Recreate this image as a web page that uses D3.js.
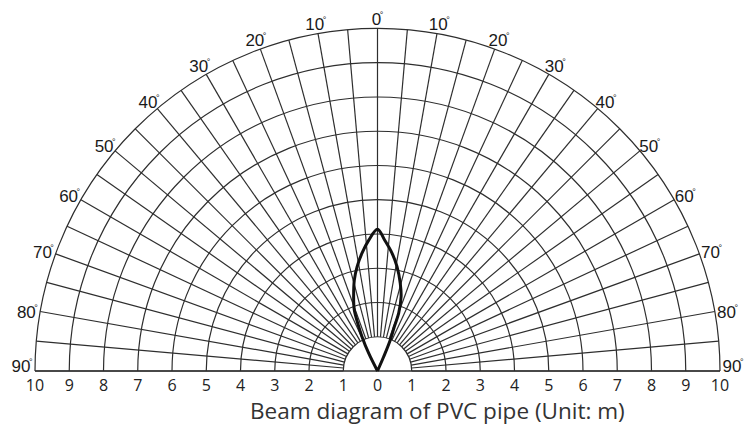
<!DOCTYPE html>
<html><head><meta charset="utf-8">
<script src="https://cdn.jsdelivr.net/npm/d3@7"></script>
<style>html,body{margin:0;padding:0;background:#fff;}svg{display:block;}</style>
</head><body>
<svg id="chart" width="744" height="426"></svg>
<script>
// ---- data ----
const rangeTicks = [0, 1, 2, 3, 4, 5, 6, 7, 8, 9, 10];            // metres (circles)
const angleGrid = d3.range(-90, 91, 5);                            // radial grid lines (deg)
const angleLabels = [-90, -80, -70, -60, -50, -40, -30, -20, -10, 0, 10, 20, 30, 40, 50, 60, 70, 80, 90];
const beamAngles = [0, -26.4, -24.3, -22.5, -20.8, -17.8, -14.3, -11.1, -7.5, -3.8, 0, 3.1, 7.0, 10.6, 14.5, 17.6, 20.1, 20.8, 22.4, 23.4, 0];
const beamRanges = [0, 0.58, 1.10, 1.51, 1.91, 2.28, 2.74, 3.10, 3.47, 3.83, 4.14, 3.83, 3.47, 3.10, 2.65, 2.28, 1.80, 1.38, 0.98, 0.46, 0];
const title = "Beam diagram of PVC pipe (Unit: m)";

// ---- layout ----
const cx = 377.5, cy = 371, R = 342.5;
const svg = d3.select("#chart");
const r = d3.scaleLinear().domain([0, 10]).range([0, R]);
const rad = d3.scaleLinear().domain([0, 360]).range([0, 2 * Math.PI]);
const g = svg.append("g").attr("transform", `translate(${cx},${cy})`);
const gridColor = "#2e2e2e";

// circles (semicircles)
g.selectAll("path.ring").data(rangeTicks.filter(d => d > 0)).join("path")
  .attr("class", "ring")
  .attr("d", d => { const p = d3.path(); p.arc(0, 0, r(d), -Math.PI, 0); return p.toString(); })
  .attr("fill", "none").attr("stroke", gridColor).attr("stroke-width", 1.2);

// radial lines
const radial = d3.lineRadial().angle(d => rad(d[0])).radius(d => r(d[1]));
g.selectAll("path.spoke").data(angleGrid).join("path")
  .attr("class", "spoke")
  .attr("d", a => radial([[a, 1], [a, 10]]))
  .attr("fill", "none").attr("stroke", gridColor).attr("stroke-width", 1.2);

// baseline
g.append("line").attr("x1", -r(10)).attr("x2", r(10)).attr("y1", 0).attr("y2", 0)
  .attr("stroke", gridColor).attr("stroke-width", 1.4);

// beam
const beam = d3.lineRadial().angle(d => rad(d[0])).radius(d => r(d[1])).curve(d3.curveCatmullRom.alpha(0.5));
g.append("path").datum(beamAngles.map((a, i) => [a, beamRanges[i]]))
  .attr("d", beam).attr("fill", "none").attr("stroke", "#111").attr("stroke-width", 3)
  .attr("stroke-linejoin", "round");

// angle labels
const labR = R + 13;
const al = g.selectAll("text.ang").data(angleLabels).join("text")
  .attr("class", "ang")
  .attr("x", a => labR * Math.sin(rad(a)))
  .attr("y", a => Math.min(-labR * Math.cos(rad(a)) + 9, 1))
  .attr("text-anchor", "middle")
  .attr("font-family", "'Liberation Sans', Arial, sans-serif")
  .attr("font-size", 17).attr("fill", "#1a1a1a");
al.append("tspan").text(a => Math.abs(a));
al.append("tspan").text("°").attr("font-size", 9).attr("dy", -7).attr("dx", -1.5);

// bottom range labels
const bottom = rangeTicks.slice().reverse().map(v => -v).concat(rangeTicks.slice(1));
g.selectAll("text.rng").data(bottom).join("text")
  .attr("class", "rng")
  .attr("x", v => v < 0 ? -r(-v) : r(v))
  .attr("y", 20)
  .attr("text-anchor", "middle")
  .attr("font-family", "'Open Sans', sans-serif")
  .attr("font-size", 16).attr("fill", "#222")
  .text(v => Math.abs(v));

// title
const t = svg.append("text").attr("x", 250).attr("y", 419)
  .attr("font-family", "'Open Sans', sans-serif").attr("font-size", 22).attr("fill", "#333")
  .text(title);
const w = t.node().getComputedTextLength();
t.attr("font-size", 22 * 375 / w);
</script>
</body></html>
